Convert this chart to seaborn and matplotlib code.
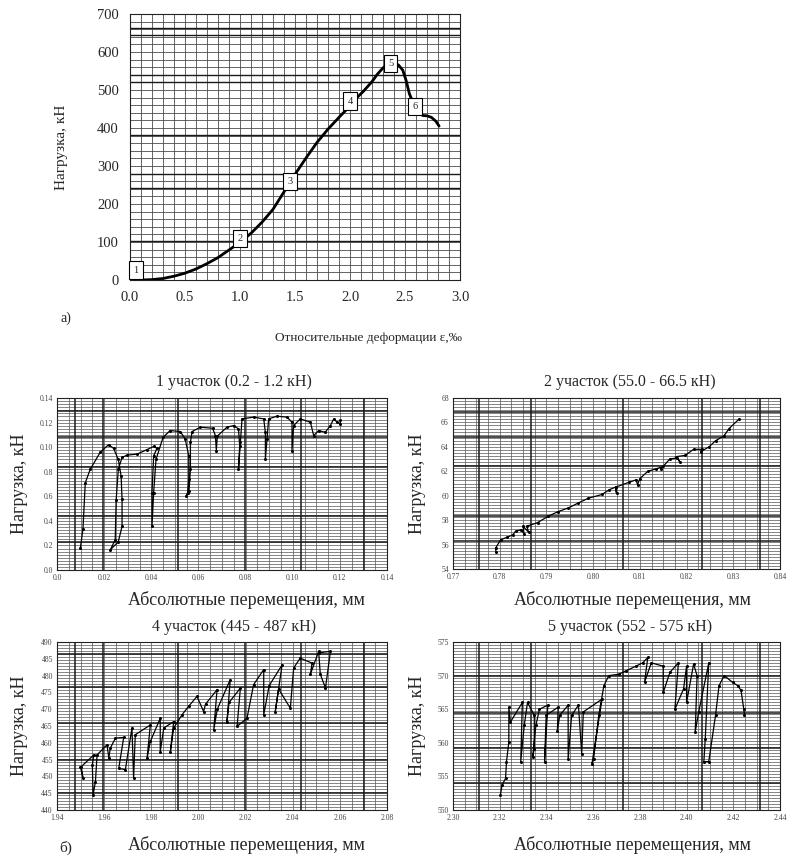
import numpy as np
import pandas as pd
import matplotlib
matplotlib.use("Agg")
import matplotlib.pyplot as plt
import seaborn as sns

# ---------------- data ----------------
# (a) load vs relative strain
eps = [0.0, 0.10, 0.20, 0.30, 0.40, 0.50, 0.60, 0.70, 0.80, 0.90, 1.00, 1.10, 1.20, 1.30,
       1.40, 1.50, 1.60, 1.70, 1.80, 1.90, 2.00, 2.07, 2.12, 2.16, 2.20, 2.25, 2.30, 2.36,
       2.40, 2.44, 2.48, 2.51, 2.54, 2.58, 2.62, 2.66, 2.70, 2.74, 2.78, 2.81]
load = [0, 0, 1, 4, 10, 18, 29, 43, 59, 79, 99, 123, 152, 186,
        232, 278, 321, 362, 397, 428, 458, 482, 496, 509, 522, 542, 558, 572,
        570, 566, 552, 525, 490, 462, 444, 433, 432, 428, 418, 405]
stage_names = ["1", "2", "3", "4", "5", "6"]
stage_eps = [0.056, 1.00, 1.455, 2.00, 2.37, 2.59]
stage_load = [26, 110, 260, 471, 570, 456]

# (b) stage 1
s1_x = [0.0099, 0.0110, 0.0120, 0.0141, 0.0184, 0.0219, 0.0240, 0.0260, 0.0272, 0.0276, 0.0276, 0.0260,
        0.0226, 0.0247, 0.0251, 0.0260, 0.0276, 0.0297, 0.0339, 0.0382, 0.0410, 0.0424, 0.0410, 0.0403,
        0.0403, 0.0410, 0.0420, 0.0450, 0.0480, 0.0523, 0.0544, 0.0559, 0.0559, 0.0554, 0.0548, 0.0560,
        0.0566, 0.0566, 0.0573, 0.0608, 0.0660, 0.0672, 0.0676, 0.0680, 0.0721, 0.0750, 0.0770, 0.0775,
        0.0770, 0.0778, 0.0785, 0.0834, 0.0877, 0.0884, 0.0884, 0.0891, 0.0898, 0.0933, 0.0976, 0.0997,
        0.0997, 0.1004, 0.1032, 0.1075, 0.1089, 0.1110, 0.1138, 0.1160, 0.1174, 0.1188, 0.1202, 0.1202]
s1_y = [0.0178, 0.0330, 0.0710, 0.0820, 0.0960, 0.1020, 0.0990, 0.0900, 0.0766, 0.0574, 0.0355, 0.0230,
        0.0164, 0.0246, 0.0570, 0.0820, 0.0916, 0.0935, 0.0943, 0.0980, 0.1006, 0.0990, 0.0930, 0.0630,
        0.0355, 0.0630, 0.0900, 0.1080, 0.1135, 0.1127, 0.1066, 0.0930, 0.0738, 0.0630, 0.0600, 0.0640,
        0.0820, 0.1040, 0.1127, 0.1162, 0.1154, 0.1094, 0.0970, 0.1090, 0.1162, 0.1176, 0.1148, 0.1010,
        0.0820, 0.1040, 0.1230, 0.1244, 0.1230, 0.1120, 0.0900, 0.1066, 0.1230, 0.1252, 0.1244, 0.1203,
        0.0970, 0.1176, 0.1230, 0.1203, 0.1094, 0.1135, 0.1121, 0.1176, 0.1230, 0.1203, 0.1190, 0.1217]

# (b) stage 2
s2_x = [0.7792, 0.7791, 0.7802, 0.7816, 0.7828, 0.7834, 0.7845, 0.7852, 0.7850, 0.7862, 0.7858, 0.7881,
        0.7903, 0.7925, 0.7947, 0.7968, 0.7990, 0.8019, 0.8035, 0.8048, 0.8050, 0.8048, 0.8077, 0.8092,
        0.8095, 0.8100, 0.8117, 0.8135, 0.8150, 0.8145, 0.8164, 0.8180, 0.8185, 0.8178, 0.8197, 0.8215,
        0.8232, 0.8230, 0.8248, 0.8262, 0.8280, 0.8291, 0.8313]
s2_y = [55.4, 55.7, 56.4, 56.6, 56.8, 57.1, 57.2, 56.9, 57.5, 57.0, 57.5, 57.8,
        58.3, 58.7, 59.0, 59.4, 59.8, 60.1, 60.5, 60.7, 60.2, 60.7, 61.1, 61.3,
        60.9, 61.4, 62.0, 62.2, 62.4, 62.2, 63.0, 63.1, 62.8, 63.2, 63.3, 63.8,
        63.8, 63.6, 64.0, 64.5, 64.9, 65.5, 66.3]

# (b) stage 4
s4_x = [1.9499, 1.9510, 1.9503, 1.9556, 1.9550, 1.9553, 1.9563, 1.9570, 1.9612, 1.9620, 1.9626, 1.9648,
        1.9683, 1.9662, 1.9690, 1.9718, 1.9725, 1.9732, 1.9796, 1.9782, 1.9796, 1.9838, 1.9838, 1.9853,
        1.9895, 1.9881, 1.9895, 1.9930, 1.9960, 1.9994, 2.0022, 2.0030, 2.0079, 2.0065, 2.0080, 2.0135,
        2.0121, 2.0130, 2.0178, 2.0164, 2.0206, 2.0234, 2.0277, 2.0277, 2.0300, 2.0355, 2.0326, 2.0340,
        2.0390, 2.0404, 2.0432, 2.0482, 2.0475, 2.0510, 2.0517, 2.0539, 2.0560, 2.0510]
s4_y = [452.9, 449.6, 452.9, 456.4, 453.4, 444.5, 448.4, 456.4, 459.4, 455.4, 458.4, 461.4,
        461.6, 452.4, 452.0, 464.4, 449.4, 462.4, 465.3, 455.4, 460.4, 467.3, 457.4, 464.4,
        466.3, 457.4, 464.4, 468.3, 471.0, 473.8, 469.3, 471.5, 475.8, 463.9, 470.0, 478.8,
        466.3, 472.0, 476.3, 464.9, 467.3, 477.3, 481.8, 468.3, 477.0, 483.2, 469.3, 476.0,
        470.3, 482.3, 485.2, 483.7, 480.4, 487.2, 480.4, 476.3, 487.2, 486.8]

# (b) stage 5
s5_x = [2.3203, 2.3210, 2.3225, 2.3229, 2.3239, 2.3239, 2.3246, 2.3297, 2.3290, 2.3305, 2.3319, 2.3348,
        2.3348, 2.3341, 2.3355, 2.3370, 2.3406, 2.3392, 2.3399, 2.3450, 2.3447, 2.3457, 2.3493, 2.3493,
        2.3508, 2.3537, 2.3551, 2.3558, 2.3638, 2.3595, 2.3602, 2.3624, 2.3646, 2.3667, 2.3710, 2.3740,
        2.3783, 2.3812, 2.3834, 2.3820, 2.3849, 2.3900, 2.3900, 2.3929, 2.3965, 2.3950, 2.3987, 2.4000,
        2.4000, 2.4030, 2.4045, 2.4037, 2.4052, 2.4095, 2.4080, 2.4074, 2.4095, 2.4124, 2.4139, 2.4161,
        2.4197, 2.4219, 2.4233, 2.4245, 2.4248]
s5_y = [552.2, 553.7, 554.7, 557.2, 560.1, 565.3, 563.1, 566.0, 557.2, 562.6, 566.0, 564.1,
        559.1, 557.9, 562.6, 565.0, 565.6, 557.2, 564.1, 565.3, 561.8, 564.1, 565.6, 557.6,
        564.1, 565.6, 558.4, 564.6, 566.5, 556.9, 557.6, 564.1, 568.5, 570.0, 570.2, 570.7,
        571.4, 571.9, 572.7, 569.0, 571.9, 571.4, 567.5, 570.5, 571.9, 565.0, 568.0, 571.4,
        566.0, 571.7, 570.0, 561.6, 564.6, 571.9, 560.6, 557.2, 557.2, 564.1, 568.5, 570.0,
        569.0, 568.5, 567.8, 565.0, 564.1]

top_xticks = [0.0, 0.5, 1.0, 1.5, 2.0, 2.5, 3.0]
top_xlabels = ["0.0", "0.5", "1.0", "1.5", "2.0", "2.5", "3.0"]
top_yticks = [0, 100, 200, 300, 400, 500, 600, 700]

sub_titles = ["1 участок (0.2 - 1.2 кН)", "2 участок (55.0 - 66.5 кН)",
              "4 участок (445 - 487 кН)", "5 участок (552 - 575 кН)"]
sub_xticks = [[0.00, 0.02, 0.04, 0.06, 0.08, 0.10, 0.12, 0.14],
              [0.77, 0.78, 0.79, 0.80, 0.81, 0.82, 0.83, 0.84],
              [1.94, 1.96, 1.98, 2.00, 2.02, 2.04, 2.06, 2.08],
              [2.30, 2.32, 2.34, 2.36, 2.38, 2.40, 2.42, 2.44]]
sub_xlabels = [["0.0", "0.02", "0.04", "0.06", "0.08", "0.10", "0.12", "0.14"],
               ["0.77", "0.78", "0.79", "0.80", "0.81", "0.82", "0.83", "0.84"],
               ["1.94", "1.96", "1.98", "2.00", "2.02", "2.04", "2.06", "2.08"],
               ["2.30", "2.32", "2.34", "2.36", "2.38", "2.40", "2.42", "2.44"]]
sub_yticks = [[0.00, 0.02, 0.04, 0.06, 0.08, 0.10, 0.12, 0.14],
              [54, 56, 58, 60, 62, 64, 66, 68],
              [440, 445, 450, 455, 460, 465, 470, 475, 480, 485, 490],
              [550, 555, 560, 565, 570, 575]]
sub_ylabels = [["0.0", "0.2", "0.4", "0.6", "0.8", "0.10", "0.12", "0.14"],
               ["54", "56", "58", "60", "62", "64", "66", "68"],
               ["440", "445", "450", "455", "460", "465", "470", "475", "480", "485", "490"],
               ["550", "555", "560", "565", "570", "575"]]

# ---------------- styling ----------------
sns.set_theme(style="white")
plt.rcParams['font.family'] = ['Liberation Serif', 'DejaVu Serif']

W, H = 792, 861
fig = plt.figure(figsize=(W / 100, H / 100), dpi=100)
fig.patch.set_facecolor("white")


def rect(l, t, r, b):
    return [l / W, 1 - b / H, (r - l) / W, (b - t) / H]


def ftext(x, y, s, **kw):
    fig.text(x / W, 1 - y / H, s, **kw)


def paper(ax, nvx, nhy, thick_v, thick_h, lw_minor=0.5, lw_thick=1.1,
          c_minor="#4a4a4a", c_thick="#1a1a1a"):
    # graph-paper background in axes fraction
    tr = ax.transAxes
    for f in np.linspace(0, 1, nvx + 1):
        ax.plot([f, f], [0, 1], transform=tr, color=c_minor, lw=lw_minor, zorder=0.5)
    for f in np.linspace(0, 1, nhy + 1):
        ax.plot([0, 1], [f, f], transform=tr, color=c_minor, lw=lw_minor, zorder=0.5)
    for f in thick_v:
        ax.plot([f, f], [0, 1], transform=tr, color=c_thick, lw=lw_thick, zorder=0.6)
    for f in thick_h:
        ax.plot([0, 1], [f, f], transform=tr, color=c_thick, lw=lw_thick, zorder=0.6)
    for sp in ax.spines.values():
        sp.set_color("#222222")
        sp.set_linewidth(0.8)
    ax.tick_params(length=0)


# ---------------- (a) main curve ----------------
ax0 = fig.add_axes(rect(130, 14, 460, 280))
df0 = pd.DataFrame({"eps": eps, "load": load})
sns.lineplot(data=df0, x="eps", y="load", ax=ax0, sort=False, estimator=None,
             color="black", lw=2.0, zorder=3)
ax0.set_xlim(0, 3.0)
ax0.set_ylim(0, 700)
paper(ax0, 30, 35, [], [0.146, 0.346, 0.546, 0.746, 0.946, 0.4, 0.77, 0.92],
      lw_minor=0.6, lw_thick=1.0)
ax0.set_xticks(top_xticks)
ax0.set_xticklabels(top_xlabels, fontsize=10.5)
ax0.set_yticks(top_yticks)
ax0.set_yticklabels([str(v) for v in top_yticks], fontsize=10.5)
ax0.tick_params(axis="x", pad=8)
ax0.tick_params(axis="y", pad=8)
ax0.set_xlabel("")
ax0.set_ylabel("")
for nm, xx, yy in zip(stage_names, stage_eps, stage_load):
    ax0.text(xx, yy, nm, ha="center", va="center", fontsize=7.5, zorder=5,
             bbox=dict(boxstyle="square,pad=0.4", fc="white", ec="black", lw=0.8))

ftext(62, 147, "Нагрузка, кН", rotation=90, ha="center", va="center", fontsize=11)
ftext(368, 338, "Относительные деформации ε,‰", ha="center", va="center", fontsize=9.5)
ftext(66, 318, "а)", ha="center", va="center", fontsize=10)

# ---------------- (b) four sub-charts ----------------
rects = [rect(57, 398, 387, 570), rect(453, 398, 780, 569),
         rect(57, 642, 387, 810), rect(453, 642, 780, 810)]
series = [(s1_x, s1_y), (s2_x, s2_y), (s4_x, s4_y), (s5_x, s5_y)]
title_pos = [(234, 382), (630, 382), (234, 627), (630, 627)]
ylab_pos = [(20, 484), (417, 484), (20, 726), (417, 726)]
xlab_pos = [(246, 600), (632, 600), (246, 845), (632, 845)]
thick_h_sets = [[0.164, 0.316, 0.60, 0.772, 0.924],
                [0.163, 0.31, 0.60, 0.77, 0.92],
                [0.10, 0.30, 0.52, 0.73, 0.93],
                [0.16, 0.37, 0.58, 0.80]]
thick_v_sets = [[0.055, 0.14, 0.367, 0.57, 0.74, 0.93],
                [0.08, 0.24, 0.52, 0.76, 0.94],
                [0.055, 0.14, 0.367, 0.57, 0.74, 0.93],
                [0.08, 0.24, 0.52, 0.76, 0.94]]

for i in range(4):
    ax = fig.add_axes(rects[i])
    xs, ys = series[i]
    d = pd.DataFrame({"x": xs, "y": ys})
    sns.lineplot(data=d, x="x", y="y", ax=ax, sort=False, estimator=None,
                 color="black", lw=0.9, marker="o", markersize=2.2,
                 markeredgewidth=0, zorder=3)
    ax.set_xlim(sub_xticks[i][0], sub_xticks[i][-1])
    ax.set_ylim(sub_yticks[i][0], sub_yticks[i][-1])
    paper(ax, 28, 56, thick_v_sets[i], thick_h_sets[i], lw_minor=0.5, lw_thick=1.1,
          c_minor="#555555")
    ax.set_xticks(sub_xticks[i])
    ax.set_xticklabels(sub_xlabels[i], fontsize=5.5, color="#444444")
    ax.set_yticks(sub_yticks[i])
    ax.set_yticklabels(sub_ylabels[i], fontsize=5.5, color="#444444")
    ax.tick_params(axis="both", pad=3)
    ax.set_xlabel("")
    ax.set_ylabel("")
    ftext(*title_pos[i], sub_titles[i], ha="center", va="center", fontsize=11.5)
    ftext(*ylab_pos[i], "Нагрузка, кН", rotation=90, ha="center", va="center", fontsize=13)
    ftext(*xlab_pos[i], "Абсолютные перемещения, мм", ha="center", va="center", fontsize=13)

ftext(66, 848, "б)", ha="center", va="center", fontsize=11)

fig.savefig("out.png", dpi=100, facecolor="white")
